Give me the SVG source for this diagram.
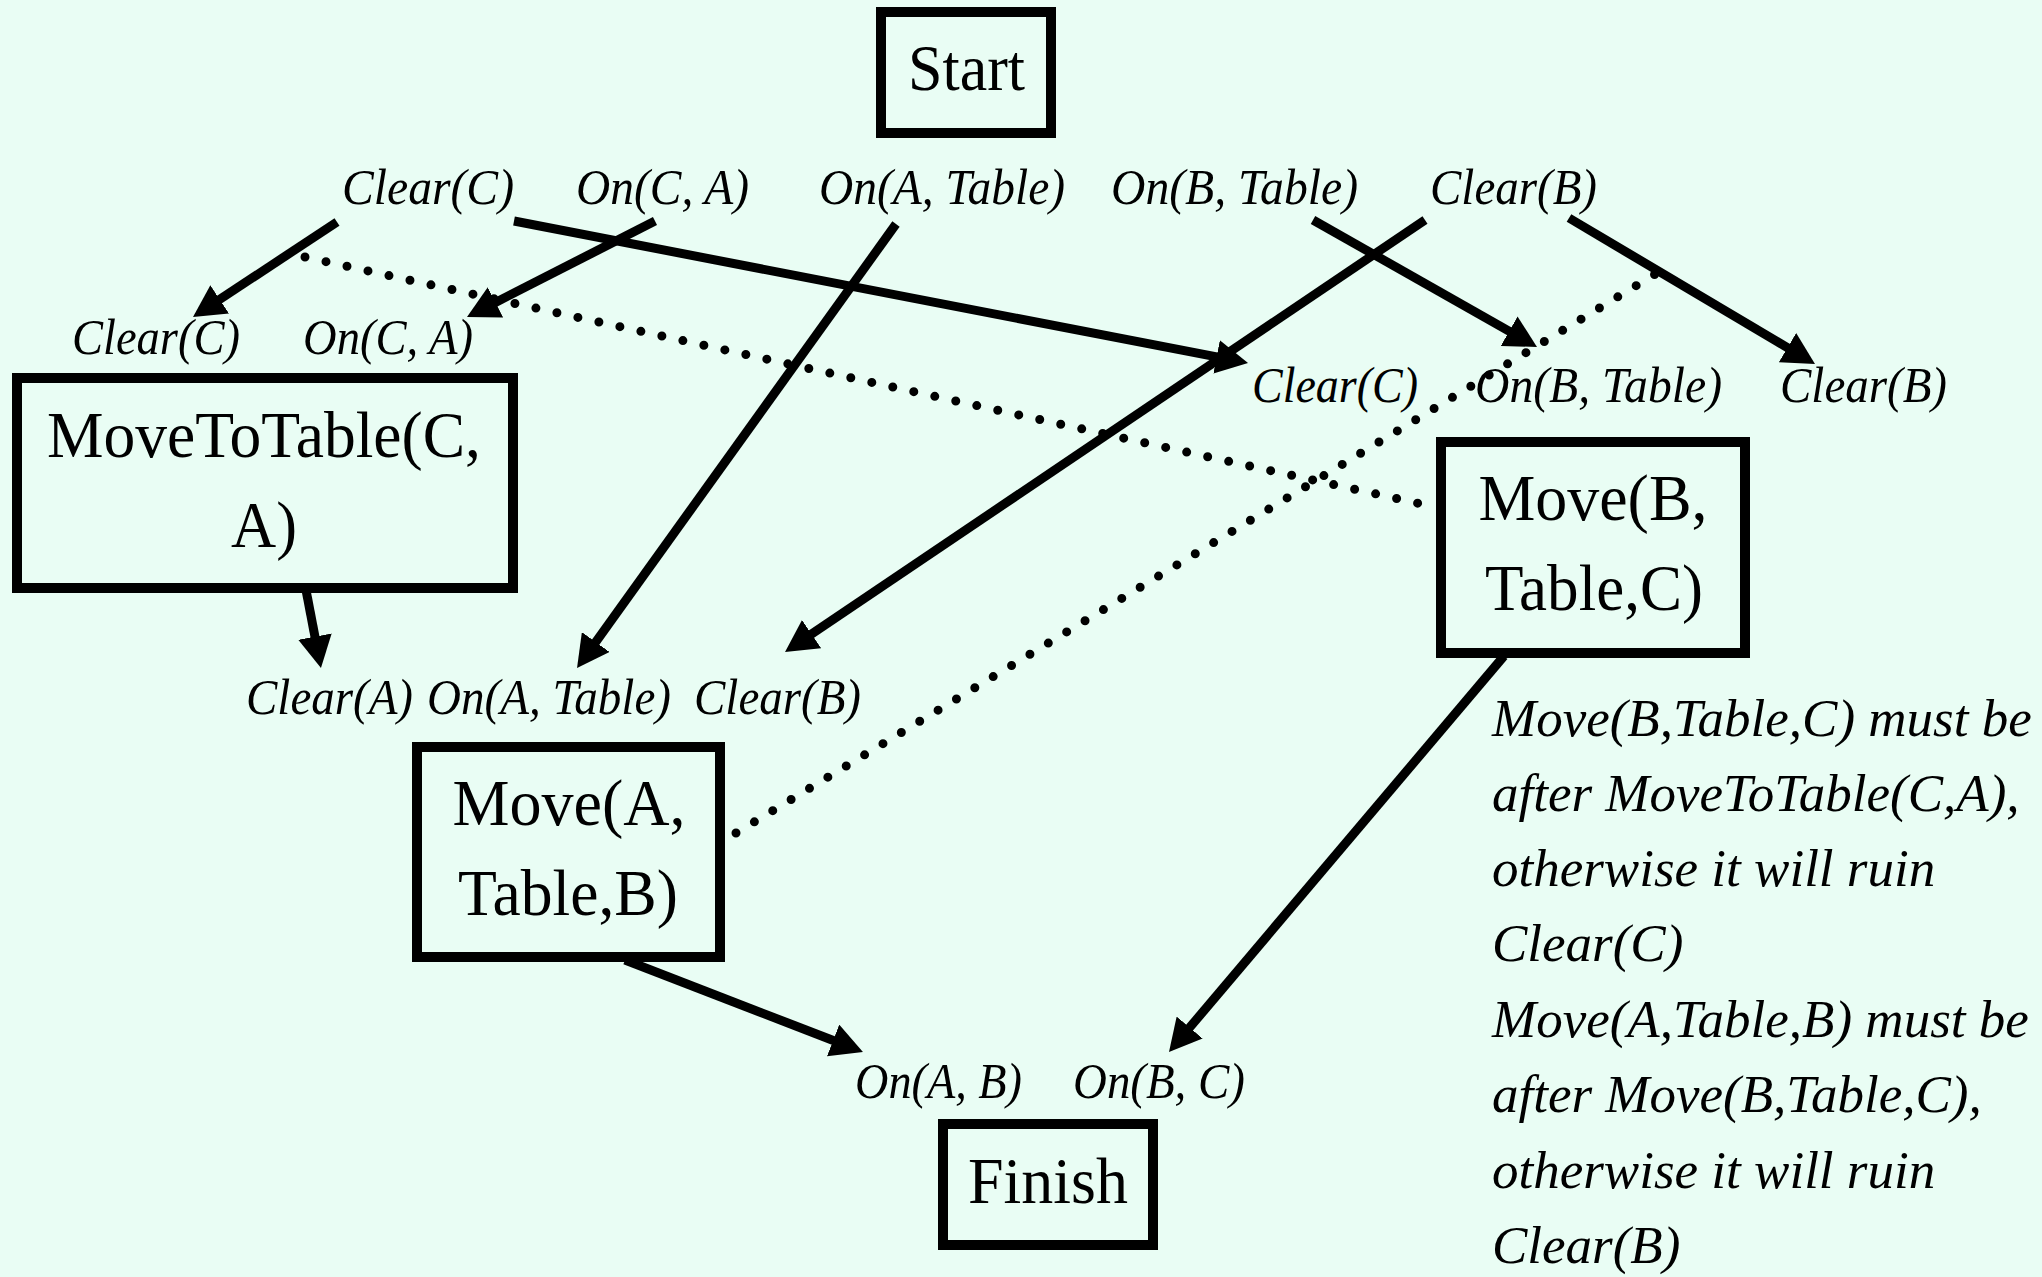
<svg xmlns="http://www.w3.org/2000/svg" width="2042" height="1277" viewBox="0 0 2042 1277">
<defs>
<style>
.bg{fill:#E9FDF4}
.box{fill:#E9FDF4;stroke:#000;stroke-width:10}
.nt{font-family:"Liberation Serif","Times New Roman",serif;font-size:66px;fill:#000;text-anchor:middle}
.lb{font-family:"Liberation Serif","Times New Roman",serif;font-style:italic;font-size:50px;fill:#000}
.note{font-family:"Liberation Serif","Times New Roman",serif;font-style:italic;font-size:53px;fill:#000}
.ar{stroke:#000;stroke-width:9;fill:none;marker-end:url(#ah)}
.dot{stroke:#000;stroke-width:9;fill:none;stroke-linecap:round;stroke-dasharray:0 21.5}
</style>
<marker id="ah" markerUnits="userSpaceOnUse" markerWidth="32" markerHeight="34" viewBox="0 0 32 34" refX="12" refY="17" orient="auto"><path d="M0,0 L32,17 L0,34 z" fill="#000"/></marker>
</defs>
<rect class="bg" x="0" y="0" width="2042" height="1277"/>

<g id="connectors">
<line class="ar" x1="337" y1="222" x2="209.7" y2="306"/>
<line class="ar" x1="655" y1="221" x2="484.8" y2="307.9"/>
<line class="ar" x1="514" y1="221" x2="1228.4" y2="359.2"/>
<line class="ar" x1="896" y1="224" x2="588.7" y2="651.8"/>
<line class="ar" x1="1313" y1="220" x2="1519.6" y2="337.1"/>
<line class="ar" x1="1425" y1="220" x2="801.6" y2="640.8"/>
<line class="ar" x1="1569" y1="218" x2="1797.8" y2="353.8"/>
<line class="ar" x1="306" y1="590" x2="317.2" y2="648.4"/>
<line class="ar" x1="625" y1="960" x2="844.3" y2="1044.8"/>
<line class="ar" x1="1504" y1="656" x2="1181.9" y2="1036.7"/>
<line class="dot" x1="305" y1="257" x2="1435" y2="507"/>
<line class="dot" x1="736" y1="833" x2="1657" y2="273"/>
</g>

<g id="start">
<rect class="box" x="881" y="12" width="170" height="121"/>
<text class="nt" x="966.5" y="90" textLength="117" lengthAdjust="spacingAndGlyphs">Start</text>
</g>

<g id="start-effects">
<text class="lb" x="342" y="204" textLength="172" lengthAdjust="spacingAndGlyphs">Clear(C)</text>
<text class="lb" x="576" y="204" textLength="173" lengthAdjust="spacingAndGlyphs">On(C, A)</text>
<text class="lb" x="819" y="204" textLength="246" lengthAdjust="spacingAndGlyphs">On(A, Table)</text>
<text class="lb" x="1111" y="204" textLength="247" lengthAdjust="spacingAndGlyphs">On(B, Table)</text>
<text class="lb" x="1430" y="204" textLength="167" lengthAdjust="spacingAndGlyphs">Clear(B)</text>
</g>

<g id="movetotable">
<text class="lb" x="72" y="354" textLength="168" lengthAdjust="spacingAndGlyphs">Clear(C)</text>
<text class="lb" x="303" y="354" textLength="170" lengthAdjust="spacingAndGlyphs">On(C, A)</text>
<rect class="box" x="17" y="378" width="496" height="210"/>
<text class="nt" x="264" y="457" textLength="434" lengthAdjust="spacingAndGlyphs">MoveToTable(C,</text>
<text class="nt" x="264" y="547" textLength="66" lengthAdjust="spacingAndGlyphs">A)</text>
</g>

<g id="moveB">
<text class="lb" x="1252" y="402" textLength="166" lengthAdjust="spacingAndGlyphs">Clear(C)</text>
<text class="lb" x="1475" y="402" textLength="247" lengthAdjust="spacingAndGlyphs">On(B, Table)</text>
<text class="lb" x="1780" y="402" textLength="167" lengthAdjust="spacingAndGlyphs">Clear(B)</text>
<rect class="box" x="1441" y="442" width="304" height="211"/>
<text class="nt" x="1593" y="520" textLength="229" lengthAdjust="spacingAndGlyphs">Move(B,</text>
<text class="nt" x="1594" y="610" textLength="218" lengthAdjust="spacingAndGlyphs">Table,C)</text>
</g>

<g id="moveA">
<text class="lb" x="246" y="714" textLength="167" lengthAdjust="spacingAndGlyphs">Clear(A)</text>
<text class="lb" x="427" y="714" textLength="244" lengthAdjust="spacingAndGlyphs">On(A, Table)</text>
<text class="lb" x="694" y="714" textLength="167" lengthAdjust="spacingAndGlyphs">Clear(B)</text>
<rect class="box" x="417" y="747" width="303" height="210"/>
<text class="nt" x="569" y="825" textLength="233" lengthAdjust="spacingAndGlyphs">Move(A,</text>
<text class="nt" x="568" y="915" textLength="220" lengthAdjust="spacingAndGlyphs">Table,B)</text>
</g>

<g id="finish">
<text class="lb" x="855" y="1098" textLength="167" lengthAdjust="spacingAndGlyphs">On(A, B)</text>
<text class="lb" x="1073" y="1098" textLength="172" lengthAdjust="spacingAndGlyphs">On(B, C)</text>
<rect class="box" x="943" y="1124" width="210" height="121"/>
<text class="nt" x="1048" y="1203" textLength="160" lengthAdjust="spacingAndGlyphs">Finish</text>
</g>

<g id="notes">
<text class="note" x="1492" y="736">Move(B,Table,C) must be</text>
<text class="note" x="1492" y="811">after MoveToTable(C,A),</text>
<text class="note" x="1492" y="886">otherwise it will ruin</text>
<text class="note" x="1492" y="961">Clear(C)</text>
<text class="note" x="1492" y="1037">Move(A,Table,B) must be</text>
<text class="note" x="1492" y="1112">after Move(B,Table,C),</text>
<text class="note" x="1492" y="1188">otherwise it will ruin</text>
<text class="note" x="1492" y="1263">Clear(B)</text>
</g>
</svg>
